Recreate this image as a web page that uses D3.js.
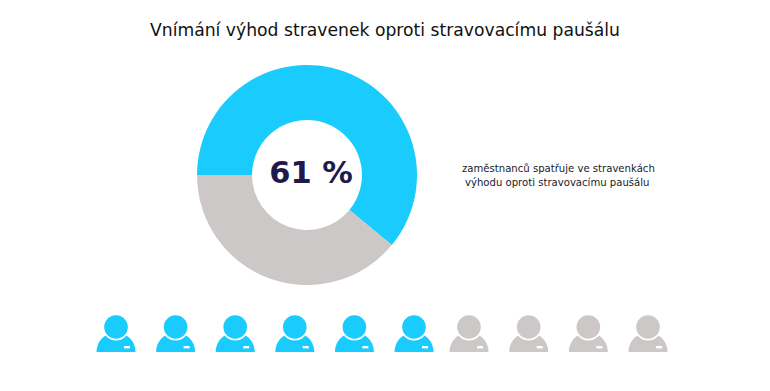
<!DOCTYPE html>
<html>
<head>
<meta charset="utf-8">
<script src="https://cdn.jsdelivr.net/npm/d3@7"></script>
<style>
    html, body { margin: 0; padding: 0; background: #fff; }
    text { font-family: "DejaVu Sans", sans-serif; }
</style>
</head>
<body>
<div id="chart"></div>
<script>
const titleText = "Vnímání výhod stravenek oproti stravovacímu paušálu";
const categories = ["spatřuje výhodu", "nespatřuje výhodu"];
const shareValues = [61, 39];
const centerLabel = "61 %";
const noteLines = ["zaměstnanců spatřuje ve stravenkách", "výhodu oproti stravovacímu paušálu"];
const peopleBlue = [0, 1, 2, 3, 4, 5];
const peopleGrey = [6, 7, 8, 9];

const blue = "#19CCFD";
const grey = "#CCC8C7";

const width = 770, height = 391;

const svg = d3.select("#chart").append("svg")
    .attr("width", width)
    .attr("height", height)
    .style("display", "block");

// title
svg.append("text")
    .attr("x", 385)
    .attr("y", 36)
    .attr("text-anchor", "middle")
    .attr("font-size", 17.2)
    .attr("fill", "#111")
    .text(titleText);

// donut, starts at 9 o'clock
const color = d3.scaleOrdinal().domain(categories).range([blue, grey]);

const pie = d3.pie()
    .sort(null)
    .startAngle(-Math.PI / 2)
    .endAngle(Math.PI * 1.5)
    .value((d, i) => shareValues[i]);

const arc = d3.arc().innerRadius(55).outerRadius(110);

const donut = svg.append("g").attr("transform", "translate(307,175)");

donut.selectAll("path")
    .data(pie(categories))
    .enter()
    .append("path")
    .attr("d", arc)
    .attr("fill", d => color(d.data));

donut.append("text")
    .attr("x", 4)
    .attr("y", 7.5)
    .attr("text-anchor", "middle")
    .attr("font-size", 30.5)
    .attr("font-weight", "bold")
    .attr("fill", "#1F1A4D")
    .text(centerLabel);

// note on the right
svg.selectAll("text.note")
    .data(noteLines)
    .enter()
    .append("text")
    .attr("class", "note")
    .attr("x", (d, i) => i === 0 ? 462 : 465)
    .attr("y", (d, i) => 172 + i * 14)
    .attr("font-size", 10.1)
    .attr("fill", "#1a1a2a")
    .text(d => d);

// people row, the grey group sits a bit closer
const xBlue = d3.scalePoint().domain(peopleBlue).range([116, 414]);
const xGrey = d3.scalePoint().domain(peopleGrey).range([469, 648]);

function drawPeople(list, x, fill) {
    const g = svg.selectAll("g.p" + fill.slice(1))
        .data(list)
        .enter()
        .append("g")
        .attr("class", "p" + fill.slice(1))
        .attr("transform", d => "translate(" + x(d) + ",327)");

    g.append("path")
        .attr("d", "M-19.5,25 C-19.5,16 -14,9 -7,7 L7,7 C14,9 19.5,16 19.5,25 Z")
        .attr("fill", fill);
    g.append("circle").attr("r", 13.6).attr("fill", "#fff");
    g.append("circle").attr("r", 11.8).attr("fill", fill);
    g.append("rect")
        .attr("x", 8)
        .attr("y", 19)
        .attr("width", 6)
        .attr("height", 2.4)
        .attr("fill", "#fff");
}

drawPeople(peopleBlue, xBlue, blue);
drawPeople(peopleGrey, xGrey, grey);
</script>
</body>
</html>
